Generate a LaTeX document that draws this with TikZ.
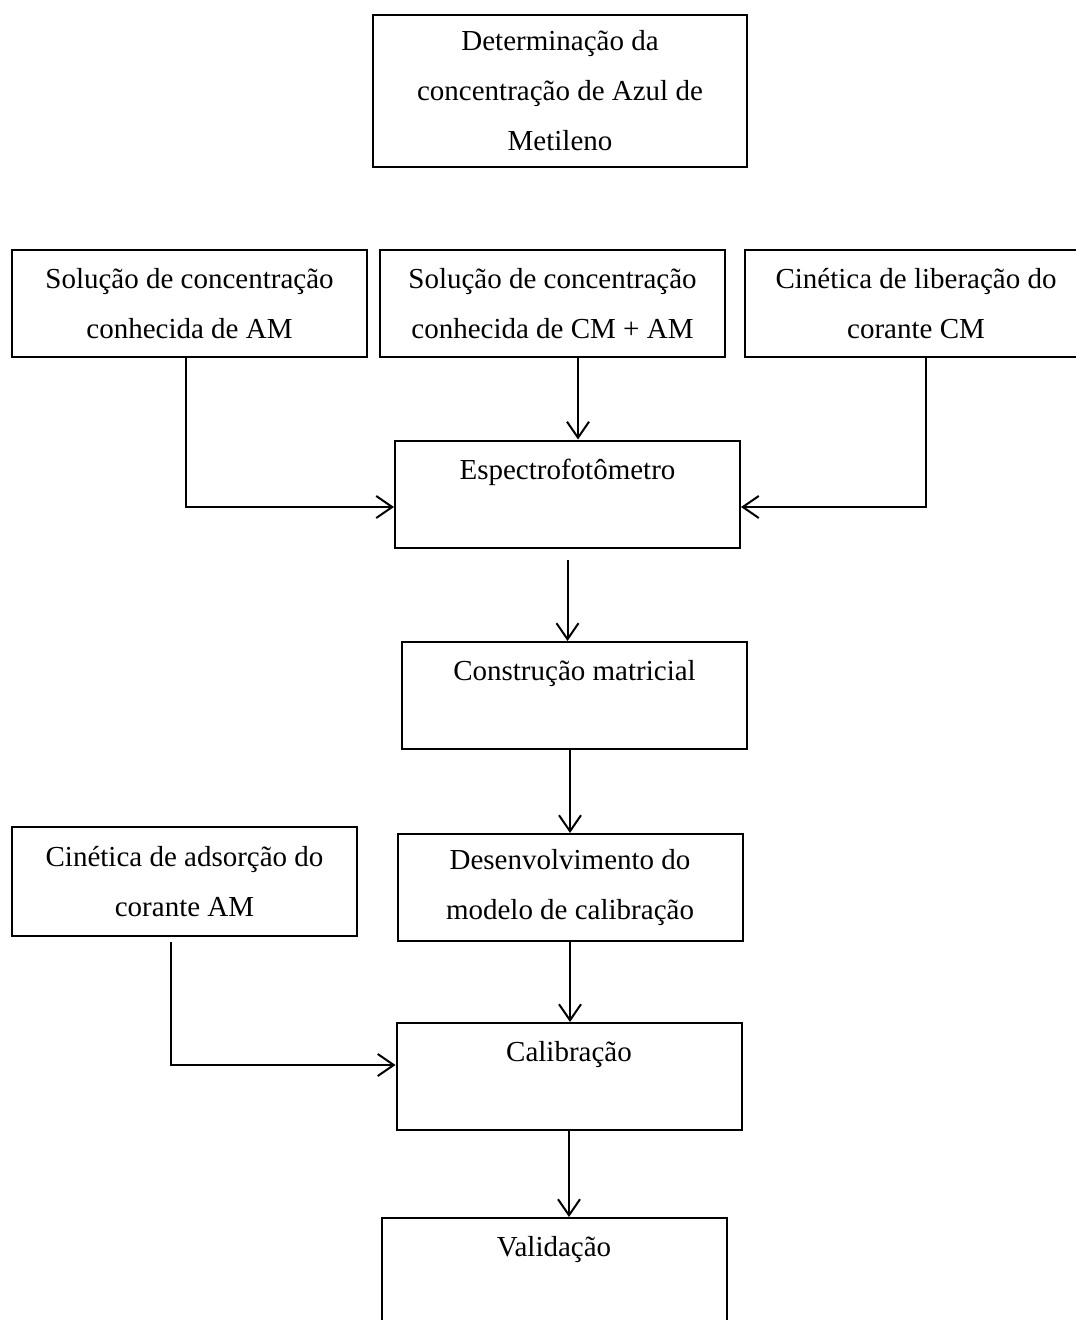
\documentclass[tikz,border=0pt]{standalone}
\usepackage{fontspec}
\setmainfont{Liberation Serif}
\usetikzlibrary{arrows.meta}
\begin{document}
\begin{tikzpicture}[x=0.5pt,y=-0.5pt,
    box/.style={draw,line width=1pt,rectangle,inner sep=0pt,align=center,
      minimum width=172.5pt,minimum height=53.5pt,
      font=\fontsize{14.5}{25}\selectfont},
    >={Straight Barb[length=8pt,width=11pt,line width=1pt]}]
    \useasboundingbox (0,0) rectangle (1075,1320);
    \node [box,minimum width=187pt,minimum height=76pt] (det) at (560,91) {Determinação da\\concentração de Azul de\\Metileno};
    \node [box,minimum width=177.5pt] (sam) at (189.5,304) {Solução de concentração\\conhecida de AM};
    \node [box] (scm) at (552.5,303.5) {Solução de concentração\\conhecida de CM + AM};
    \node [box,minimum width=171pt] (clib) at (916,304) {Cinética de liberação do\\corante CM};
    \node [box] (esp) at (567.5,494) {Espectrofotômetro\\\mbox{}};
    \node [box] (cons) at (574.5,695.5) {Construção matricial\\\mbox{}};
    \node [box] (dev) at (570,887.5) {Desenvolvimento do\\modelo de calibração};
    \node [box,minimum height=54.5pt] (cads) at (184.5,881.5) {Cinética de adsorção do\\corante AM};
    \node [box] (cal) at (569,1076.5) {Calibração\\\mbox{}};
    \node [box] (val) at (554,1271.5) {Validação\\\mbox{}};
    \draw [->,line width=1pt] ([xshift=-1.75pt]sam.south) |- ([yshift=-6.5pt]esp.west);
    \draw [->,line width=1pt] ([xshift=12.75pt]scm.south) -- ([xshift=12.75pt]scm.south |- esp.north);
    \draw [->,line width=1pt] ([xshift=5pt]clib.south) |- ([yshift=-6.5pt]esp.east);
    \draw [->,line width=1pt] ([yshift=-5.5pt]esp.south) -- (esp.south |- cons.north);
    \draw [->,line width=1pt] (dev.north |- cons.south) -- (dev.north);
    \draw [->,line width=1pt] (dev.south) -- (dev.south |- cal.north);
    \draw [->,line width=1pt] ([xshift=-6.75pt,yshift=-2.5pt]cads.south) |- ([yshift=5.75pt]cal.west);
    \draw [->,line width=1pt] (cal.south) -- (cal.south |- val.north);
\end{tikzpicture}
\end{document}
